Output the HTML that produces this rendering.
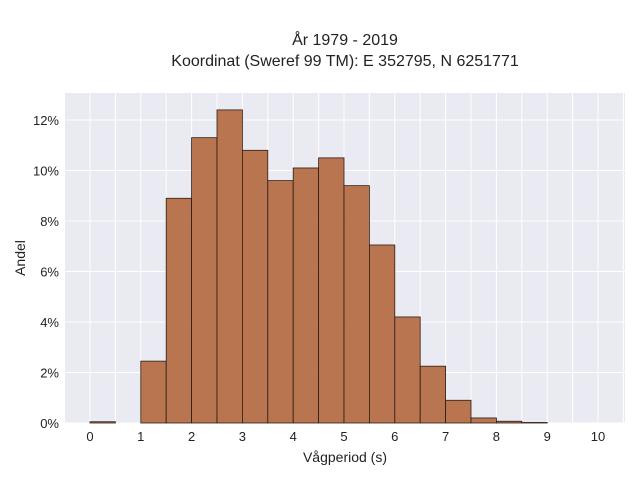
<!DOCTYPE html>
<html><head><meta charset="utf-8"><style>
body{margin:0;background:#fff;font-family:"Liberation Sans",sans-serif}
</style></head><body>
<svg id="chart" width="640" height="480" xmlns="http://www.w3.org/2000/svg" font-family="Liberation Sans, sans-serif">
<text x="345" y="45" text-anchor="middle" font-size="16" fill="#222">År 1979 - 2019</text>
<text x="345" y="66" text-anchor="middle" font-size="16" fill="#222">Koordinat (Sweref 99 TM): E 352795, N 6251771</text>
<rect x="65" y="93" width="560" height="330" fill="#eaeaf2"/>
<g id="grid"></g><g id="bars"></g><g id="ticks"></g>
<text x="345" y="462" text-anchor="middle" font-size="14" fill="#222">Vågperiod (s)</text>
<text x="25" y="258" text-anchor="middle" font-size="14" fill="#222" transform="rotate(-90 25 258)">Andel</text>
</svg>
<script>
const binStarts=[0,0.5,1,1.5,2,2.5,3,3.5,4,4.5,5,5.5,6,6.5,7,7.5,8,8.5,9,9.5];
const binValues=[0.05,0,2.45,8.9,11.3,12.4,10.8,9.6,10.1,10.5,9.4,7.05,4.2,2.25,0.9,0.2,0.07,0.02,0,0];
const xTicks=[0,1,2,3,4,5,6,7,8,9,10];
const yTicks=[0,2,4,6,8,10,12];
const binWidth=0.5;
const NS="http://www.w3.org/2000/svg";
const xs=v=>90+v*50.8, ys=v=>423-v*25.25;
const grid=document.getElementById('grid'),bars=document.getElementById('bars'),ticks=document.getElementById('ticks');
function mk(tag,attrs,parent){const e=document.createElementNS(NS,tag);for(const k in attrs)e.setAttribute(k,attrs[k]);parent.appendChild(e);return e;}
for(let v=-0.5;v<=10.5;v+=0.5){const x=xs(v);if(x<65||x>625)continue;
const l=mk('line',{x1:x,x2:x,y1:93,y2:423,stroke:'#fff','stroke-width':1},grid);

}
yTicks.forEach(v=>{const l=mk('line',{x1:65,x2:625,y1:ys(v),y2:ys(v),stroke:'#fff','stroke-width':1},grid);


const t=mk('text',{x:59,y:ys(v)+5,'text-anchor':'end','font-size':13,fill:'#222'},ticks);t.textContent=v+'%';

});
xTicks.forEach(v=>{const t=mk('text',{x:xs(v),y:441,'text-anchor':'middle','font-size':13,fill:'#222'},ticks);t.textContent=v;

});
binStarts.forEach((s,i)=>{const v=binValues[i];if(v<=0)return;
const r=mk('rect',{x:xs(s),y:ys(v),width:xs(s+binWidth)-xs(s),height:ys(0)-ys(v),fill:'#b66f47','fill-opacity':0.95,stroke:'#2b1d15','stroke-width':0.8},bars);

});
</script>
</body></html>
